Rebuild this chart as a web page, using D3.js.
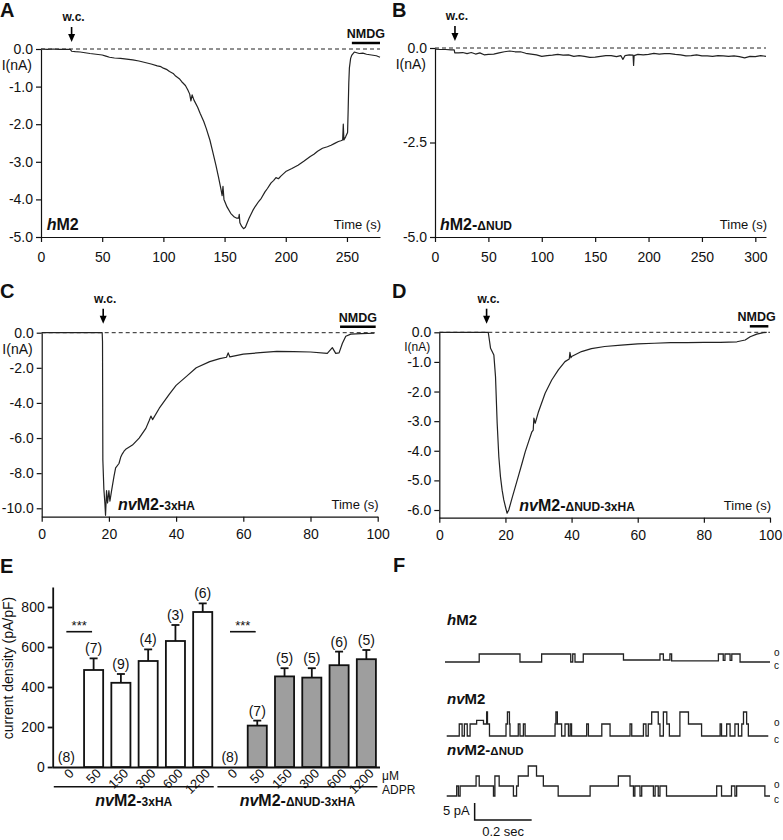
<!DOCTYPE html>
<html><head><meta charset="utf-8">
<script src="https://cdn.jsdelivr.net/npm/d3@7"></script>
<style>body{margin:0;background:#fff}svg{display:block}text{font-family:"Liberation Sans",Arial,Helvetica,sans-serif;fill:#111}</style>
</head><body>
<script>
// ---------------- DATA ----------------
const traceA = [[0,0],[5,-0.01],[10,0],[15,-0.01],[20,-0.01],[24,-0.01],[25,-0.06],[28,-0.07],[32,-0.08],[36,-0.1],[40,-0.12],[45,-0.14],[50,-0.16],[53,-0.19],[56,-0.22],[60,-0.24],[65,-0.25],[70,-0.27],[75,-0.29],[80,-0.32],[85,-0.36],[90,-0.4],[95,-0.45],[98,-0.47],[100,-0.51],[103,-0.55],[105,-0.6],[108,-0.65],[110,-0.72],[113,-0.79],[115,-0.87],[118,-0.97],[120,-1.09],[121.5,-1.2],[122.5,-1.38],[123.5,-1.22],[125,-1.36],[128,-1.55],[130,-1.71],[133,-1.93],[135,-2.11],[138,-2.42],[140,-2.69],[143,-3.1],[145,-3.4],[147,-3.72],[148,-3.9],[148.7,-3.65],[149.5,-4.0],[152,-4.2],[155,-4.37],[158,-4.47],[160,-4.5],[161.5,-4.5],[162,-4.4],[162.5,-4.62],[164,-4.72],[165.5,-4.78],[167,-4.74],[170,-4.5],[173,-4.3],[175,-4.19],[178,-4.05],[180,-3.97],[183,-3.8],[185,-3.71],[188,-3.56],[190,-3.5],[192,-3.42],[194,-3.45],[196,-3.38],[200,-3.26],[205,-3.18],[210,-3.09],[215,-2.98],[220,-2.86],[223,-2.8],[226,-2.72],[230,-2.64],[234,-2.6],[237,-2.56],[240,-2.51],[243,-2.46],[245,-2.44],[246.5,-2.42],[247,-2.0],[247.5,-2.42],[249,-2.33],[250.5,-2.22],[251,-1.6],[251.5,-0.9],[252,-0.5],[253,-0.25],[254,-0.16],[256,-0.08],[258,-0.1],[260,-0.12],[263,-0.11],[266,-0.14],[270,-0.16],[274,-0.18],[277,-0.22]];
const traceB = [[0,-0.03],[5,-0.04],[10,-0.04],[15,-0.05],[18,-0.05],[18.5,-0.13],[22,-0.13],[26,-0.12],[30,-0.15],[34,-0.12],[38,-0.16],[42,-0.13],[46,-0.18],[50,-0.17],[55,-0.16],[60,-0.13],[65,-0.1],[70,-0.08],[75,-0.1],[80,-0.1],[85,-0.14],[90,-0.16],[95,-0.18],[100,-0.22],[105,-0.2],[110,-0.19],[115,-0.17],[120,-0.19],[125,-0.18],[130,-0.22],[135,-0.2],[140,-0.22],[145,-0.25],[150,-0.24],[155,-0.22],[160,-0.2],[165,-0.2],[170,-0.23],[174,-0.2],[176,-0.3],[178,-0.2],[182,-0.18],[185.5,-0.19],[186,-0.46],[186.5,-0.2],[190,-0.17],[195,-0.18],[200,-0.17],[205,-0.14],[210,-0.16],[215,-0.15],[220,-0.15],[225,-0.17],[230,-0.18],[235,-0.21],[240,-0.2],[245,-0.18],[250,-0.21],[255,-0.21],[260,-0.22],[265,-0.2],[270,-0.21],[275,-0.22],[280,-0.21],[285,-0.23],[290,-0.26],[295,-0.22],[300,-0.23],[305,-0.2],[310,-0.22]];
const traceC = [[0,0],[10,0],[18,0],[18.1,-0.5],[18.2,-7.25],[18.5,-8.9],[18.8,-9.7],[19,-10.4],[19.3,-9.0],[19.6,-9.7],[20,-9.0],[20.3,-9.6],[20.8,-9.0],[21.5,-8.2],[22,-7.7],[23,-7.45],[23.5,-7.1],[24,-6.9],[24.5,-6.75],[25,-6.64],[27,-6.4],[29,-6.0],[31,-5.45],[32,-5.0],[32.5,-4.75],[33,-4.95],[35,-4.3],[38,-3.5],[40,-3.0],[43,-2.5],[46,-2.0],[50,-1.65],[53,-1.48],[55,-1.4],[55.5,-1.15],[56,-1.38],[60,-1.22],[65,-1.14],[70,-1.06],[75,-1.08],[80,-1.1],[85,-1.18],[86.5,-0.85],[87.5,-1.18],[88.5,-1.15],[89.5,-0.6],[90.5,-0.2],[92,-0.08],[95,-0.05],[99,-0.03]];
const traceD = [[0,0],[10,0],[14.8,0],[15,-0.15],[15.5,-0.54],[16.5,-0.77],[17,-1.5],[17.5,-3.07],[18,-4.2],[18.5,-4.88],[19,-5.33],[19.5,-5.66],[20,-5.89],[20.5,-6.11],[21,-6.0],[22,-5.6],[23,-5.21],[24,-4.82],[25,-4.43],[26,-4.03],[27,-3.69],[28,-3.36],[28.4,-3.3],[28.6,-2.9],[29,-3.07],[30,-2.68],[32,-2.06],[34,-1.61],[36,-1.27],[38,-0.99],[39.3,-0.9],[39.5,-0.68],[39.8,-0.86],[40,-0.82],[43,-0.65],[46,-0.55],[50,-0.48],[55,-0.43],[60,-0.39],[65,-0.37],[70,-0.35],[75,-0.35],[80,-0.34],[85,-0.34],[90,-0.32],[92.5,-0.26],[94,-0.15],[96,-0.06],[98,-0.01],[99,0]];

const wcTimes = {A:25, B:18.7, C:18.3, D:14.3};
const nmdgA = [254, 277], nmdgC = [88.8, 99.4], nmdgD = [93.9, 99.5];
const xTicksA = [0,50,100,150,200,250];
const xTicksB = [0,50,100,150,200,250,300];
const xTicksCD = [0,20,40,60,80,100];
const yTicksA = [0,-1,-2,-3,-4,-5];
const yTicksB = [0,-2.5,-5];
const yTicksC = [0,-2,-4,-6,-8,-10];
const yTicksD = [0,-1,-2,-3,-4,-5,-6];

// Panel E
const doses = ["0","50","150","300","600","1200"];
const nvM2Mean = [0,485,421,530,630,775];
const nvM2Sem  = [0,58,44,58,80,43];
const nvM2N    = [8,7,9,4,3,6];
const nudMean  = [0,207,453,447,509,539];
const nudSem   = [0,25,41,47,68,46];
const nudN     = [8,7,5,5,6,5];
const yTicksE  = [0,200,400,600,800];

// Panel F (single-channel, time in ms, level in open-channel units; step-after)
const fHM2 = [[0,0],[120,1],[263,0],[339,1],[441,0],[448,1],[456,0],[485,1],[626,0.25],[754,1],[766,0.25],[789,1],[795,0.15],[959,1],[976,0.2],[982,1],[1000,0.2],[1006,1],[1035,0],[1140,0]];
const fNvM2 = [[6,0],[50,1],[60,0],[68,1],[78,0],[88,1],[111,1.3],[135,1],[146,2],[149,1],[156,0],[214,1],[219,2],[226,1],[228,0],[257,1],[263,0],[275,1],[281,0],[386,1],[389,2],[394,1],[409,0],[421,1],[433,0],[439,1],[444,0],[497,1],[503,0],[550,1],[579,0],[649,1],[655,0],[696,1],[705,0],[713,1],[725,2],[748,1],[754,0],[766,2],[778,1],[787,0],[824,2],[854,1],[900,0],[965,1],[970,0],[988,1],[1000,0],[1017,1],[1029,0],[1041,1],[1047,2],[1058,1],[1064,0],[1134,0]];
const fNud = [[6,0],[41,1],[47,0],[53,1],[109,2],[120,1],[170,0],[175,2],[190,1],[240,0],[251,1],[257,2],[292,3],[321,2],[345,1],[397,0],[509,1],[608,2],[649,1],[661,0],[666,1],[684,0],[690,1],[731,0],[737,1],[748,0],[754,1],[777,0],[953,1],[970,0],[1005,1],[1017,0],[1023,1],[1122,0],[1140,0]];

// ---------------- DRAW ----------------
const svg = d3.select("body").append("svg").attr("width",783).attr("height",840);
const FS = 14;

function rich(g, x, y, parts, anchor){
  const t = g.append("text").attr("x",x).attr("y",y).attr("font-weight","bold")
    .attr("text-anchor",anchor||"start");
  parts.forEach(p=>t.append("tspan").text(p[0]).attr("font-size",p[1]).attr("font-style",p[2]?"italic":"normal"));
  return t;
}
function panelLetter(x,y,s){ svg.append("text").attr("x",x).attr("y",y).attr("font-size",20).attr("font-weight","bold").text(s); }

function tracePanel(c){
  const g = svg.append("g");
  const x = d3.scaleLinear().domain(c.xDomain).range(c.xRange);
  const y = d3.scaleLinear().domain(c.yDomain).range(c.yRange);
  const yb = c.yRange[0];
  g.append("line").attr("x1",c.xRange[0]).attr("x2",c.xRange[1]).attr("y1",y(0)).attr("y2",y(0))
    .attr("stroke","#222").attr("stroke-width",1).attr("stroke-dasharray","4,3");
  const xa = g.append("g").attr("transform",`translate(0,${yb})`)
    .call(d3.axisBottom(x).tickValues(c.xTicks).tickSize(5).tickSizeOuter(0).tickPadding(c.xPad).tickFormat(d=>String(d)));
  const ya = g.append("g").attr("transform",`translate(${c.xRange[0]},0)`)
    .call(d3.axisLeft(y).tickValues(c.yTicks).tickSize(5).tickSizeOuter(0).tickPadding(3).tickFormat(d=>d.toFixed(1)));
  [xa,ya].forEach(a=>{a.selectAll("path,line").attr("stroke","#111").attr("stroke-width",1.2);
    a.selectAll("text").attr("font-size",FS).attr("font-family",'"Liberation Sans",Arial,sans-serif').attr("fill","#111");});
  g.append("path").datum(c.data).attr("fill","none").attr("stroke","#222").attr("stroke-width",1.2)
    .attr("stroke-linejoin","round").attr("d",d3.line().x(d=>x(d[0])).y(d=>y(d[1])));
  g.append("text").attr("x",c.xRange[0]-9).attr("y",y(0)+c.iOff).attr("text-anchor","end").attr("font-size",c.iFs).text("I(nA)");
  g.append("text").attr("x",c.xRange[1]+1).attr("y",yb-8).attr("text-anchor","end").attr("font-size",13).text("Time (s)");
  const ax = x(c.wc);
  g.append("text").attr("x",ax+2).attr("y",c.wcY).attr("text-anchor","middle").attr("font-weight","bold").attr("font-size",12).text("w.c.");
  g.append("line").attr("x1",ax).attr("x2",ax).attr("y1",c.wcY+6).attr("y2",c.wcY+14).attr("stroke","#000").attr("stroke-width",1.6);
  g.append("path").attr("d",`M${ax-3.5},${c.wcY+13}L${ax+3.5},${c.wcY+13}L${ax},${c.wcY+21}Z`).attr("fill","#000");
  if(c.nmdg){
    const x1 = x(c.nmdg[0]), x2 = x(c.nmdg[1]);
    g.append("line").attr("x1",x1).attr("x2",x2).attr("y1",y(0)-6).attr("y2",y(0)-6).attr("stroke","#000").attr("stroke-width",2.5);
    g.append("text").attr("x",(c.nmdgTextX!==undefined?c.nmdgTextX:(x1+x2)/2)).attr("y",y(0)-11).attr("text-anchor","middle")
      .attr("font-weight","bold").attr("font-size",12.5).text("NMDG");
  }
  rich(g, c.labelX, yb-7, c.label);
  return g;
}

panelLetter(0,17,"A"); panelLetter(392,17,"B"); panelLetter(0,298,"C"); panelLetter(392,298,"D");
panelLetter(0,573,"E"); panelLetter(393,572,"F");

tracePanel({xDomain:[0,277], xRange:[41,380], yDomain:[-5,0], yRange:[237,49], xTicks:xTicksA, yTicks:yTicksA, xPad:10,
  data:traceA, wc:wcTimes.A, wcY:21, nmdg:nmdgA, labelX:46.7, iOff:21, iFs:14, label:[["h",16,true],["M2",16]]});
tracePanel({xDomain:[0,310], xRange:[435,766], yDomain:[-5,0], yRange:[237,48], xTicks:xTicksB, yTicks:yTicksB, xPad:10,
  data:traceB, wc:wcTimes.B, wcY:20, labelX:440, iOff:21, iFs:14, label:[["h",16,true],["M2-",16],["ΔNUD",12]]});
tracePanel({xDomain:[0,100], xRange:[41.7,377.7], yDomain:[-10.48,0], yRange:[516.7,332.7], xTicks:xTicksCD, yTicks:yTicksC, xPad:7,
  data:traceC, wc:wcTimes.C, wcY:302.7, nmdg:nmdgC, labelX:118, iOff:21, iFs:14, label:[["nv",16,true],["M2-",16],["3xHA",12]]});
tracePanel({xDomain:[0,100], xRange:[439.3,770], yDomain:[-6.26,0], yRange:[517.7,332.3], xTicks:xTicksCD, yTicks:yTicksD, xPad:7,
  data:traceD, wc:wcTimes.D, wcY:302.7, nmdg:nmdgD, nmdgTextX:756.7, labelX:519.3, iOff:18.8, iFs:12, label:[["nv",16,true],["M2-",16],["ΔNUD-3xHA",12]]});

// ---------- Panel E ----------
(function(){
  const g = svg.append("g");
  const keys = [];
  doses.forEach(d=>keys.push("a"+d)); doses.forEach(d=>keys.push("b"+d));
  const rows = [];
  doses.forEach((d,i)=>rows.push({k:"a"+d, dose:d, m:nvM2Mean[i], s:nvM2Sem[i], n:nvM2N[i], fill:"#fff"}));
  doses.forEach((d,i)=>rows.push({k:"b"+d, dose:d, m:nudMean[i], s:nudSem[i], n:nudN[i], fill:"#9e9e9e"}));
  const x = d3.scaleBand().domain(keys).range([52.7,380]).paddingInner(0.3).paddingOuter(0.15);
  const y = d3.scaleLinear().domain([0,900]).range([767,587]);
  const ya = g.append("g").attr("transform","translate(52.7,0)")
    .call(d3.axisLeft(y).tickValues(yTicksE).tickSize(5).tickSizeOuter(0).tickPadding(3).tickFormat(d=>String(d)));
  const xa = g.append("g").attr("transform","translate(0,767)")
    .call(d3.axisBottom(x).tickSize(0).tickSizeOuter(0).tickFormat(""));
  [xa,ya].forEach(a=>{a.selectAll("path,line").attr("stroke","#111").attr("stroke-width",1.8);
    a.selectAll("text").attr("font-size",14).attr("font-family",'"Liberation Sans",Arial,sans-serif').attr("fill","#111");});
  xa.select(".domain").attr("d","M52.7,0.5H380");
  g.selectAll("rect.bar").data(rows).join("rect").attr("class","bar")
    .attr("x",d=>x(d.k)).attr("width",x.bandwidth()).attr("y",d=>y(d.m)).attr("height",d=>y(0)-y(d.m))
    .attr("fill",d=>d.fill).attr("stroke","#111").attr("stroke-width",1.8);
  rows.filter(d=>d.s>0).forEach(d=>{
    const cx = x(d.k)+x.bandwidth()/2;
    g.append("line").attr("x1",cx).attr("x2",cx).attr("y1",y(d.m)).attr("y2",y(d.m+d.s)).attr("stroke","#111").attr("stroke-width",1.8);
    g.append("line").attr("x1",cx-4).attr("x2",cx+4).attr("y1",y(d.m+d.s)).attr("y2",y(d.m+d.s)).attr("stroke","#111").attr("stroke-width",1.8);
  });
  rows.forEach(d=>{
    const cx = x(d.k)+x.bandwidth()/2;
    g.append("text").attr("x",cx).attr("y",y(d.m+d.s)-5).attr("text-anchor","middle").attr("font-size",14).text("("+d.n+")");
  });
  rows.forEach(d=>{
    const cx = x(d.k)+x.bandwidth()/2;
    g.append("text").attr("transform",`translate(${cx+5},771) rotate(-45)`).attr("text-anchor","end").attr("dy","0.35em")
      .attr("font-size",13).text(d.dose);
  });
  [["a0","a50"],["b0","b50"]].forEach(p=>{
    const x1 = x(p[0])+x.bandwidth()/2, x2 = x(p[1]);
    g.append("line").attr("x1",x1).attr("x2",x2+8).attr("y1",631.7).attr("y2",631.7).attr("stroke","#111").attr("stroke-width",1.6);
    g.append("text").attr("x",(x1+x2+8)/2).attr("y",630).attr("text-anchor","middle").attr("font-size",13).text("***");
  });
  g.append("text").attr("x",382).attr("y",780).attr("font-size",12).text("μM");
  g.append("text").attr("x",382).attr("y",794).attr("font-size",12).text("ADPR");
  const grp = [["a0","a1200",[["nv",16,true],["M2-",16],["3xHA",12]]],["b0","b1200",[["nv",16,true],["M2-",16],["ΔNUD-3xHA",12]]]];
  grp.forEach(gp=>{
    const x1 = x(gp[0])-3, x2 = x(gp[1])+x.bandwidth()+1.5;
    g.append("line").attr("x1",x1).attr("x2",x2).attr("y1",786.7).attr("y2",786.7).attr("stroke","#111").attr("stroke-width",1.5);
    rich(g,(x1+x2)/2,806,gp[2],"middle");
  });
  g.append("text").attr("transform","translate(13,668) rotate(-90)").attr("text-anchor","middle").attr("font-size",14).text("current density (pA/pF)");
})();

// ---------- Panel F ----------
(function(){
  const g = svg.append("g");
  const x = d3.scaleLinear().domain([0,1140]).range([445,770]);
  const traces = [
    {data:fHM2, label:[["h",15,true],["M2",15]], ly:625, c:662, amp:8},
    {data:fNvM2, label:[["nv",15,true],["M2",15]], ly:704, c:736, amp:12},
    {data:fNud, label:[["nv",15,true],["M2-",15],["ΔNUD",11.5]], ly:755, c:796, amp:10}
  ];
  traces.forEach(t=>{
    const y = d3.scaleLinear().domain([0,1]).range([t.c, t.c-t.amp]);
    rich(g, 447, t.ly, t.label);
    g.append("path").datum(t.data).attr("fill","none").attr("stroke","#222").attr("stroke-width",1.3)
      .attr("d",d3.line().curve(d3.curveStepAfter).x(d=>x(d[0])).y(d=>y(d[1])));
    g.append("text").attr("x",774).attr("y",y(1)+2).attr("font-size",10).text("o");
    g.append("text").attr("x",774).attr("y",y(0)+7).attr("font-size",10).text("c");
  });
  const x0 = x(104), x1 = x(304);
  g.append("path").attr("d",`M${x0},803V820H${x1}`).attr("fill","none").attr("stroke","#111").attr("stroke-width",1.5);
  g.append("text").attr("x",x0-5).attr("y",815).attr("text-anchor","end").attr("font-size",13).text("5 pA");
  g.append("text").attr("x",(x0+x1)/2).attr("y",836).attr("text-anchor","middle").attr("font-size",13).text("0.2 sec");
})();
</script></body></html>
